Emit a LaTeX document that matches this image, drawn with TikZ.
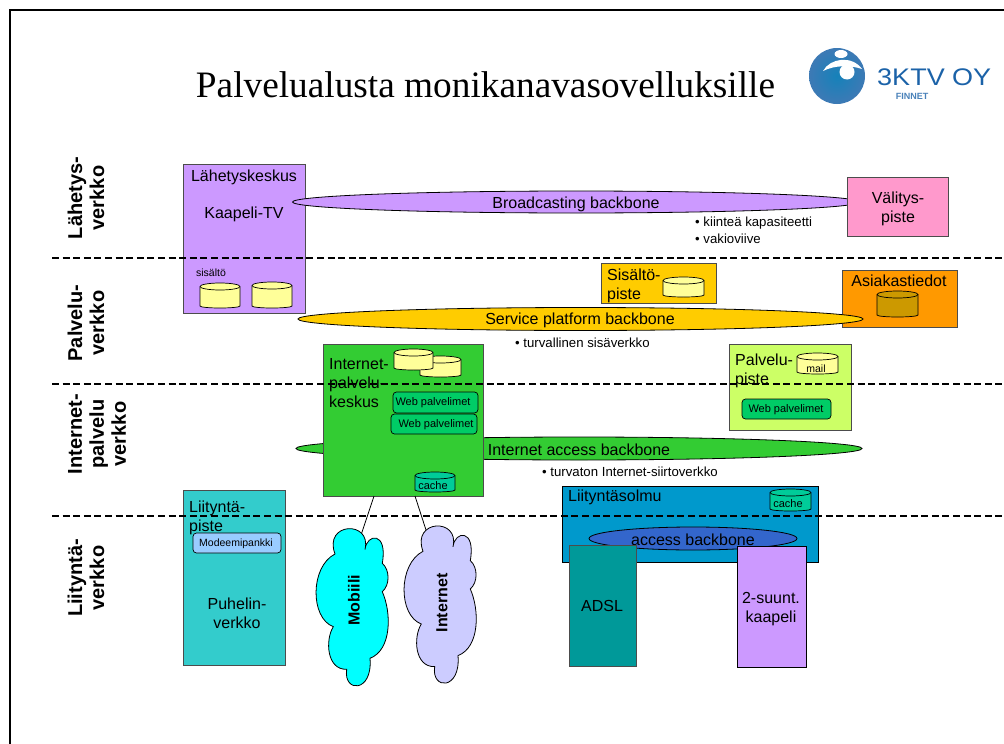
\documentclass[tikz,border=0pt]{standalone}
\usepackage{fontspec}
\setmainfont{Liberation Sans}
\newfontfamily\titlefont{Liberation Serif}
\usetikzlibrary{fit,shapes.geometric}
\definecolor{LahViolet}{HTML}{CC99FF}
\definecolor{ValPink}{HTML}{FF99CC}
\definecolor{ServYellow}{HTML}{FFCC00}
\definecolor{AsiOrange}{HTML}{FF9900}
\definecolor{DiskBrown}{HTML}{CC9900}
\definecolor{DiskPale}{HTML}{FFFF99}
\definecolor{PalvLime}{HTML}{CCFF66}
\definecolor{NetGreen}{HTML}{33CC33}
\definecolor{WebGreen}{HTML}{00CC66}
\definecolor{CacheGreen}{HTML}{00CC99}
\definecolor{LiiTeal}{HTML}{33CCCC}
\definecolor{ModemBlue}{HTML}{99CCFF}
\definecolor{SolmuBlue}{HTML}{0099CC}
\definecolor{AccessBlue}{HTML}{3366CC}
\definecolor{AdslTeal}{HTML}{009999}
\definecolor{MobCyan}{HTML}{00FFFF}
\definecolor{NetLilac}{HTML}{CCCCFF}
\definecolor{LogoBlue}{HTML}{1B62A8}
\tikzset{
  blok/.style={draw=black!70,line width=0.9pt,inner sep=0pt,outer sep=0pt},
  webbox/.style={draw=black,line width=0.7pt,rounded corners=3.5pt,inner sep=0pt,fill=WebGreen},
  backbone/.style={draw=black,line width=0.8pt,ellipse,inner sep=0pt,outer sep=0pt},
  lab/.style={font=\fontsize{16}{19}\selectfont,inner sep=0pt,align=center},
  leftlab/.style={font=\fontsize{16}{19}\selectfont,inner sep=0pt,align=left,anchor=west},
  small/.style={font=\fontsize{11}{13}\selectfont,inner sep=0pt},
  bullet/.style={font=\fontsize{13.2}{15}\selectfont,inner sep=0pt,anchor=west},
  lane/.style={font=\bfseries\fontsize{20}{22}\selectfont,inner sep=0pt,align=center,rotate=90},
  cloudlab/.style={font=\bfseries\fontsize{16}{18}\selectfont,inner sep=0pt,rotate=90},
  cloudline/.style={draw=black,line width=0.8pt},
}
\newcommand\cloudpath{(335,554) .. controls (323,522) and (372,520) .. (365,549.5)
  .. controls (366.7,533.3) and (388,531) .. (382.3,563.3)
  .. controls (390,570) and (390,585) .. (382.3,591.7)
  .. controls (391.7,613) and (391.7,650) .. (370,658.3)
  .. controls (373,693) and (343,693) .. (346.7,669.3)
  .. controls (326.7,670) and (325,640) .. (333.3,626.7)
  .. controls (310,618) and (310,566.7) .. (335,554) -- cycle}
% x1 y-top x2 y-bottom colour
\newcommand\dbdisk[5]{
  \draw[line width=0.7pt,fill=#5] (#1,#2+3.5) -- (#1,#4-2) arc[start angle=180,end angle=0,x radius=(#3-#1)/2,y radius=2]
    -- (#3,#2+3.5) arc[start angle=0,end angle=-180,x radius=(#3-#1)/2,y radius=3.5] -- cycle;
  \draw[line width=0.7pt] (#1,#2+3.5) arc[start angle=180,end angle=0,x radius=(#3-#1)/2,y radius=3.5];
}
\begin{document}
\begin{tikzpicture}[x=1pt,y=-1pt]
        \useasboundingbox (0,0) rectangle (1004,744);
        \draw[line width=1.4pt] (10,744) -- (10,10) -- (1004,10);

        \node[font=\titlefont\fontsize{37.3}{40}\selectfont,inner sep=0pt] (title) at (485.5,85) {Palvelualusta monikanavasovelluksille};

        % logo
        \shade[inner color=LogoBlue!80!cyan,outer color=LogoBlue!85!white] (837,76) circle (28);
        \fill[white] (841,54) ellipse (6.5 and 4);
        \fill[white] (823,71) .. controls (830,58) and (852,55) .. (862,69) .. controls (850,65) and (835,65) .. (823,71) -- cycle;
        \fill[white] (847,72) circle (7.5);
        \node[font=\fontsize{24}{24}\selectfont,text=LogoBlue,inner sep=0pt,anchor=west,xscale=1.125] (logotext) at (877,77) {3KTV OY};
        \node[font=\bfseries\fontsize{9}{9}\selectfont,text=LogoBlue!80,inner sep=0pt] (logofinnet) at (912,96) {FINNET};

        % left column
        \node[lane] (lahetysverkko) at (86,198) {Lähetys-\\verkko};
        \node[lane] (palveluverkko) at (86,323) {Palvelu-\\verkko};
        \node[lane] (internetverkko) at (97,434) {Internet-\\palvelu\\verkko};
        \node[lane] (liityntaverkko) at (86,578) {Liityntä-\\verkko};

        % broadcasting
        \node[blok,fill=LahViolet,fit={(183,164)(305,313)}] (lahetyskeskus) {};
        \node[backbone,fill=LahViolet,minimum width=567pt,minimum height=22pt] (broadcast) at (576,202) {};
        \node[blok,fill=ValPink,fit={(847,177)(948,236)}] (valitys) {};
        \node[lab] (lahetysteksti) at (244,177) {Lähetyskeskus};
        \node[lab] (kaapelitv) at (244,214) {Kaapeli-TV};
        \node[lab] (broadcastteksti) at (576,204.5) {Broadcasting backbone};
        \node[lab] (valitysteksti) at (898,209) {Välitys-\\piste};
        \node[bullet] (kiintea) at (695,223) {• kiinteä kapasiteetti};
        \node[bullet] (vakioviive) at (695,239) {• vakioviive};
        \node[small,font=\fontsize{10.5}{12}\selectfont] (sisalto) at (211,273) {sisältö};
        \dbdisk{200}{283}{240}{308}{DiskPale}
        \dbdisk{252}{282}{292}{308}{DiskPale}

        % service platform
        \node[blok,fill=AsiOrange,fit={(842,270)(957,327)}] (asiakas) {};
        \node[blok,fill=ServYellow,fit={(601,263)(716,303)}] (sisaltopiste) {};
        \node[backbone,fill=ServYellow,minimum width=565pt,minimum height=23pt] (service) at (580.5,319) {};
        \node[lab] (serviceteksti) at (580,320.5) {Service platform backbone};
        \node[leftlab] (sisaltoteksti) at (607,286) {Sisältö-\\piste};
        \dbdisk{663}{277}{704}{297}{DiskPale}
        \node[lab] (asiakasteksti) at (899,281) {Asiakastiedot};
        \dbdisk{877}{291}{918}{317}{DiskBrown}
        \node[bullet] (turvallinen) at (515,343) {• turvallinen sisäverkko};

        % internet
        \node[backbone,fill=NetGreen,minimum width=566pt,minimum height=23pt] (access) at (579,448.5) {};
        \node[blok,fill=NetGreen,fit={(323,344)(483,496)}] (ipk) {};
        \node[lab] (accessteksti) at (579,449.5) {Internet access backbone};
        \node[leftlab] (ipkteksti) at (329,383) {Internet-\\palvelu-\\keskus};
        \dbdisk{420}{356}{461}{377}{DiskPale}
        \dbdisk{394}{349}{433}{370}{DiskPale}
        \node[webbox,fit={(393,392)(478,413)}] (web1) {};
        \node[small] (web1teksti) at (433,403) {Web palvelimet};
        \node[webbox,fit={(391,414)(477,434)}] (web2) {};
        \node[small] (web2teksti) at (436,425) {Web palvelimet};
        \dbdisk{415}{472}{455}{492}{CacheGreen}
        \node[small] (cache1teksti) at (433,486) {cache};
        \node[bullet] (turvaton) at (542,472) {• turvaton Internet-siirtoverkko};

        \node[blok,fill=PalvLime,fit={(729,344)(851,430)}] (palvelupiste) {};
        \node[leftlab] (palveluteksti) at (735,371) {Palvelu-\\piste};
        \dbdisk{797}{353}{838}{374}{DiskPale}
        \node[small,font=\fontsize{10.5}{12}\selectfont] (mailteksti) at (816,369) {mail};
        \node[webbox,fit={(742,399)(831,419)}] (web3) {};
        \node[small] (web3teksti) at (786,410) {Web palvelimet};

        % access
        \node[blok,fill=LiiTeal,fit={(183,490)(285,665)}] (liityntapiste) {};
        \node[leftlab] (liityntateksti) at (189,518) {Liityntä-\\piste};
        \node[webbox,fill=ModemBlue,fit={(193,533)(281,553)}] (modeemi) {};
        \node[small,font=\fontsize{10.5}{12}\selectfont] (modeemiteksti) at (236,544) {Modeemipankki};
        \node[lab] (puhelinteksti) at (237,613.5) {Puhelin-\\verkko};

        \node[blok,draw=black,fill=SolmuBlue,fit={(562,486)(818,562)}] (solmu) {};
        \node[leftlab] (solmuteksti) at (568,497) {Liityntäsolmu};
        \dbdisk{770}{489}{811}{511}{CacheGreen}
        \node[small] (cache2teksti) at (788,504) {cache};
        \node[backbone,fill=AccessBlue,minimum width=208pt,minimum height=23pt] (accessbb) at (693,538.5) {};
        \node[lab] (accessbbteksti) at (693,540) {access backbone};
        \node[blok,fill=AdslTeal,fit={(569,545)(636,666)}] (adsl) {};
        \node[lab] (adslteksti) at (602,606) {ADSL};
        \node[blok,draw=black,fill=LahViolet,fit={(737,546)(806,667)}] (kaapeli) {};
        \node[lab] (kaapeliteksti) at (771,609) {2-suunt.\\kaapeli};

        % clouds
        \coordinate (mobiilitop) at (361,535);
        \coordinate (internettop) at (426,530);
        \coordinate (ipkleft) at (374,496);
        \coordinate (ipkright) at (415,496);
        \draw[cloudline] (ipkleft) -- (mobiilitop);
        \draw[cloudline] (ipkright) -- (internettop);
        \draw[cloudline,fill=MobCyan] \cloudpath;
        \draw[cloudline,fill=NetLilac,shift={(88,-2.7)}] \cloudpath;
        \node[cloudlab] (mobiiliteksti) at (354,600) {Mobiili};
        \node[cloudlab] (internetteksti) at (442,603) {Internet};

        \foreach \y in {258,384,516}
            \draw[line width=1.6pt,dash pattern=on 7pt off 3.6pt] (52,\y) -- (1004,\y);
    \end{tikzpicture}
\end{document}
